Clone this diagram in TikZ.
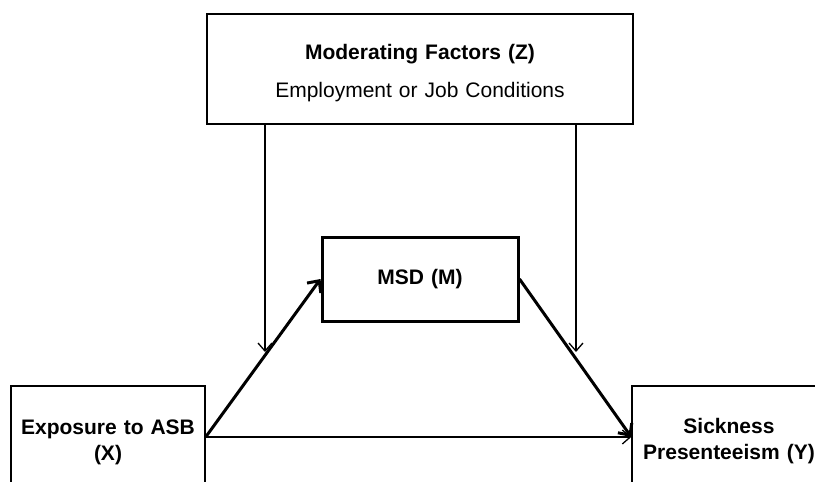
\documentclass[tikz,border=0pt]{standalone}
\usepackage{fontspec}
\setmainfont{Liberation Sans}
\usetikzlibrary{arrows.meta}
\newcommand{\toppad}[1]{\rule{0pt}{#1}}
\tikzstyle{block} = [rectangle, draw, line width=1.4pt, text centered,
   inner sep=0pt, font=\fontsize{21}{25.5}\selectfont]
\tikzstyle{bigblock} = [block, minimum width=426pt, minimum height=110pt, text width=420pt]
\tikzstyle{midblock} = [block, line width=3pt, minimum width=196pt,
   minimum height=84pt, text width=190pt]
\tikzstyle{sideblock} = [block, minimum width=194pt, minimum height=102pt, text width=190pt]
\tikzstyle{line} = [draw, line width=1.3pt, -{Straight Barb[length=8pt,width=14pt]}]
\tikzstyle{thickline} = [draw, line width=3pt, -{Straight Barb[length=9pt,width=17pt]}]

\begin{document}
\begin{tikzpicture}[x=1pt, y=-1pt]
\useasboundingbox (0,0) rectangle (815,482);
\clip (0,0) rectangle (815,482);
% Place nodes
\node [bigblock] (modFac) at (420,69) {\toppad{23pt}\textbf{Moderating Factors (Z)}\\[12.5pt]Employment or Job Conditions};
\node [midblock, below of=modFac, node distance=210pt] (msd) {\textbf{MSD (M)}};
\node [sideblock, below of=msd, node distance=158pt, xshift=-312pt] (expo) {\toppad{25pt}\textbf{Exposure to ASB}\\\textbf{(X)}};
\node [sideblock, right of=expo, node distance=621pt] (sick) {\toppad{23pt}\textbf{Sickness}\\\textbf{Presenteeism (Y)}};
\coordinate [below of=modFac, node distance=283pt, xshift=-155pt] (zLeft);
\coordinate [below of=modFac, node distance=283pt, xshift=156pt] (zRight);
% Draw edges
\path [line] (zLeft |- modFac.south) -- (zLeft);
\path [line] (zRight |- modFac.south) -- (zRight);
\path [thickline] (expo.east) -- (msd.west);
\path [thickline] (msd.east) -- (sick.west);
\path [line] (expo.east) -- (sick.west);
\end{tikzpicture}
\end{document}
